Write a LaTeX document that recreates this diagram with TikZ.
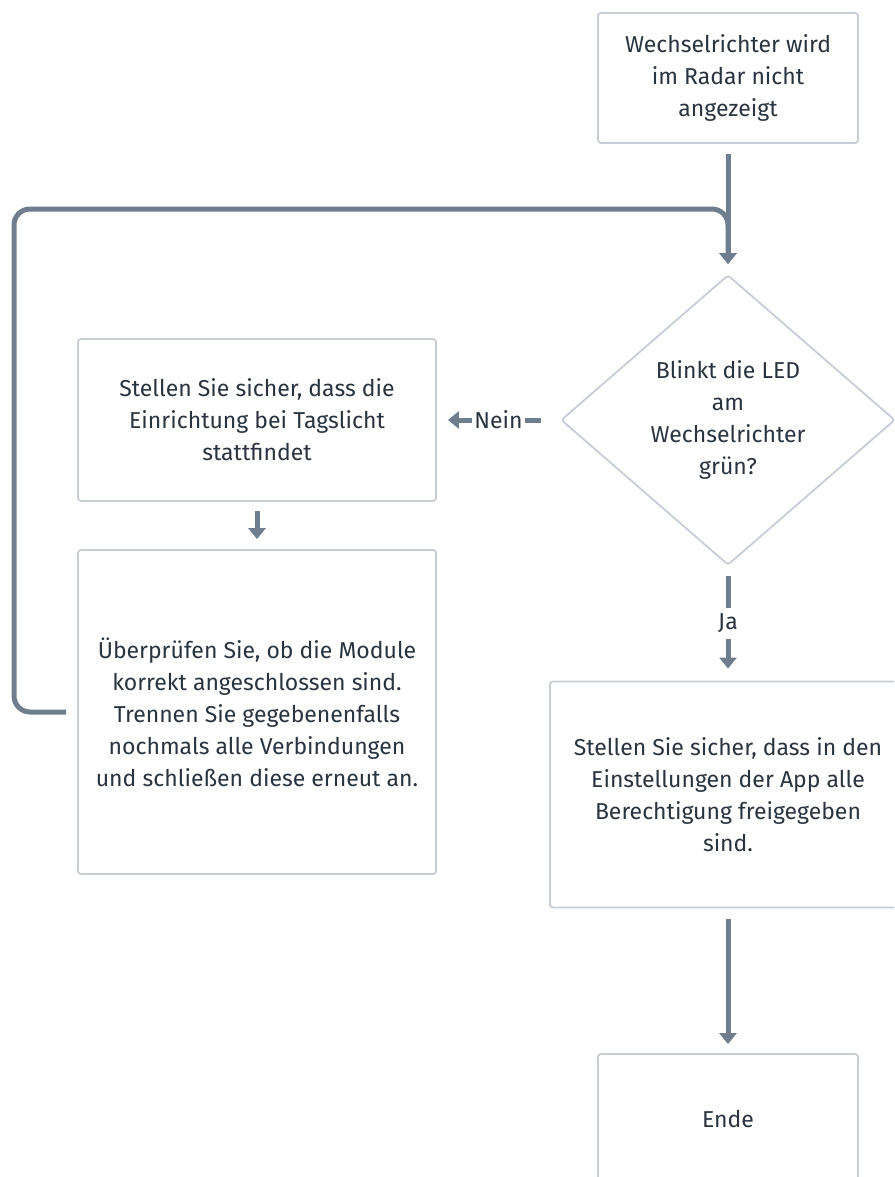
\documentclass[tikz,border=0pt]{standalone}
\usepackage{fontspec}
\setmainfont{Fira Sans}
\usetikzlibrary{arrows.meta,shapes.geometric,positioning,calc}
\definecolor{boxgray}{HTML}{C6CDD5}
\definecolor{flowgray}{HTML}{6F7E8E}
\definecolor{txtdark}{HTML}{29343F}

\begin{document}
\begin{tikzpicture}[x=1pt,y=1pt,
    txt/.style={font=\fontsize{23}{32}\selectfont, text=txtdark, align=center},
    box/.style={txt, draw=boxgray, line width=1.8pt, rounded corners=3pt, fill=white, inner sep=0pt},
    choice/.style={txt, diamond, draw=boxgray, line width=1.8pt, rounded corners=3pt, inner sep=0pt,
      minimum width=334pt, minimum height=290pt},
    flow/.style={draw=flowgray, line width=5pt, -{Triangle[width=17pt,length=11pt]}},
    lbl/.style={txt, fill=white, inner xsep=2pt, inner ysep=6pt}]
  \useasboundingbox (0,0) rectangle (894,-1177);
  \clip (0,0) rectangle (894,-1177);

  \node[box, minimum width=260pt, minimum height=130pt] (start) at (728,-78) {Wechselrichter wird\\im Radar nicht\\angezeigt};
  \node[choice] (dec) at (728,-420) {Blinkt die LED\\am\\Wechselrichter\\grün?};
  \node[box, minimum width=358pt, minimum height=162pt] (day) at (257,-420) {Stellen Sie sicher, dass die\\Einrichtung bei Tagslicht\\stattfindet};
  \node[box, minimum width=358pt, minimum height=324pt] (check) at (257,-712) {Überprüfen Sie, ob die Module\\korrekt angeschlossen sind.\\Trennen Sie gegebenenfalls\\nochmals alle Verbindungen\\und schließen diese erneut an.};
  \node[box, minimum width=356pt, minimum height=226pt] (perm) at (728,-794.5) {Stellen Sie sicher, dass in den\\Einstellungen der App alle\\Berechtigung freigegeben\\sind.};
  \node[box, minimum width=260pt, minimum height=130pt] (ende) at (728,-1119) {Ende};

  \coordinate (loopL) at (14,-209);

  \draw[flow, shorten <=10pt, shorten >=10pt] (start.south) -- (dec.north);
  \draw[flow, rounded corners=16pt, shorten <=11pt, shorten >=10pt] (check.west) -| (loopL) -| (dec.north);
  \draw[flow, shorten <=19pt, shorten >=11pt] (dec.west) -- node[lbl] {Nein} (day.east);
  \draw[flow, shorten <=10pt, shorten >=12pt] (dec.south) -- node[lbl] {Ja} (perm.north);
  \draw[flow, shorten <=9pt, shorten >=10pt] (day.south) -- (check.north);
  \draw[flow, shorten <=11pt, shorten >=9pt] (perm.south) -- (ende.north);
\end{tikzpicture}
\end{document}
